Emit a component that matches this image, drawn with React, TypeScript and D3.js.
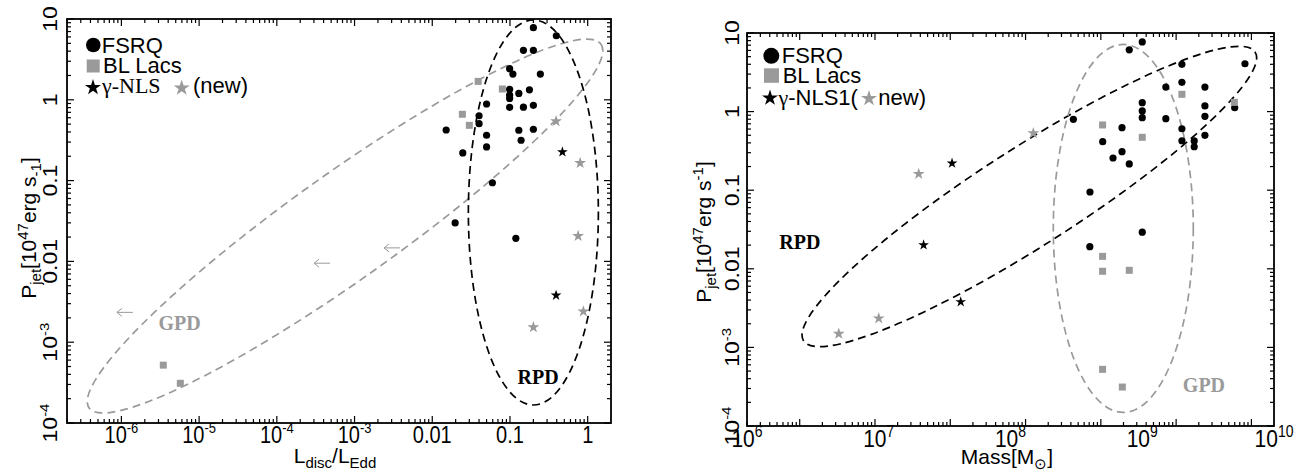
import React from "react";
import * as d3 from "d3";

// ---------- data (left panel: Pjet vs Ldisc/LEdd) ----------
const leftFsrqX = [0.2, 0.395, 0.149, 0.2, 0.099, 0.109, 0.246, 0.099, 0.13, 0.178, 0.099, 0.099, 0.05, 0.099, 0.149, 0.2, 0.04, 0.04, 0.0151, 0.13, 0.2, 0.139, 0.05, 0.05, 0.0247, 0.0594, 0.0197, 0.119];
const leftFsrqY = [7.8, 6.2, 4.1, 4.1, 2.43, 2.08, 2.08, 1.35, 1.2, 1.33, 1.14, 1.04, 0.887, 0.807, 0.81, 0.855, 0.635, 0.506, 0.423, 0.42, 0.432, 0.316, 0.364, 0.261, 0.22, 0.094, 0.0299, 0.0193];
const leftBlX = [0.039, 0.0798, 0.0244, 0.03, 3.46e-6, 5.73e-6];
const leftBlY = [1.69, 1.36, 0.662, 0.483, 5.2e-4, 3.1e-4];
const leftNlsX = [0.473, 0.392];
const leftNlsY = [0.226, 0.0038];
const leftNewX = [0.392, 0.8, 0.753, 0.88, 0.2];
const leftNewY = [0.542, 0.165, 0.0206, 0.0024, 0.00153];
const leftLimitX = [1.11e-6, 3.82e-4, 3.04e-3];
const leftLimitY = [2.34e-3, 9.5e-3, 0.0147];

// ---------- data (right panel: Pjet vs Mass) ----------
const rightFsrqM = [1.0e9, 7.97e8, 6.02e9, 2.0e9, 2.0e9, 1.51e9, 2.99e9, 1e9, 1e9, 1e9, 1.51e9, 3.0e8, 2.99e9, 2.99e9, 5.03e9, 7.02e8, 2e9, 2.99e9, 5.01e8, 2e9, 2.48e9, 2.48e9, 7.02e8, 6.0e8, 7.97e8, 4.01e8, 4.0e8, 1e9];
const rightFsrqY = [7.7, 6.1, 4.06, 4.0, 2.36, 2.05, 2.05, 1.3, 1.02, 0.836, 0.812, 0.798, 1.18, 0.871, 1.12, 0.624, 0.605, 0.499, 0.414, 0.426, 0.423, 0.357, 0.309, 0.257, 0.216, 0.0948, 0.0191, 0.0292];
const rightBlM = [2.0e9, 5.0e9, 5.0e8, 1e9, 5e8, 5e8, 7.97e8, 5e8, 7.06e8];
const rightBlY = [1.66, 1.31, 0.676, 0.471, 0.0144, 0.0093, 0.00957, 5.26e-4, 3.13e-4];
const rightNlsM = [3.6e7, 2.19e7, 4.19e7];
const rightNlsY = [0.22, 0.0201, 0.00379];
const rightNewM = [1.49e8, 2.01e7, 1.0e7, 4.97e6];
const rightNewY = [0.53, 0.161, 0.00234, 0.00149];

// ---------- tick labels ----------
const yTickVals = [10, 1, 0.1, 0.01, 1e-3, 1e-4];
const yTickBase = ["10", "1", "0.1", "0.01", "10", "10"];
const yTickExp = ["", "", "", "", "-3", "-4"];
const leftXTickVals = [1e-6, 1e-5, 1e-4, 1e-3, 0.01, 0.1, 1];
const leftXTickBase = ["10", "10", "10", "10", "0.01", "0.1", "1"];
const leftXTickExp = ["-6", "-5", "-4", "-3", "", "", ""];
const rightXTickVals = [1e6, 1e7, 1e8, 1e9, 1e10];
const rightXTickExp = ["6", "7", "8", "9", "10"];

const BLACK = "#000";
const GRAY = "#9a9a9a";
const SANS = "'Liberation Sans', Arial, Helvetica, sans-serif";
const SERIF = "'Liberation Serif', 'Times New Roman', serif";
const STRETCH = 1.15;

function logTicks(domain: number[]) {
  const lo = Math.log10(domain[0]);
  const hi = Math.log10(domain[1]);
  const out: { v: number; major: boolean }[] = [];
  for (let k = Math.floor(lo); k <= Math.ceil(hi); k++) {
    for (let m = 1; m <= 9; m++) {
      const v = m * Math.pow(10, k);
      const lv = Math.log10(v);
      if (lv >= lo - 1e-9 && lv <= hi + 1e-9) out.push({ v, major: m === 1 });
    }
  }
  return out;
}

function Frame({ x0, x1, y0, y1, xTickScale, yScale }: any) {
  const xt = logTicks(xTickScale.domain());
  const yt = logTicks(yScale.domain());
  const els: any[] = [];
  xt.forEach((t, i) => {
    const px = xTickScale(t.v);
    const L = t.major ? 7 : 4;
    els.push(<line key={"xb" + i} x1={px} x2={px} y1={y1} y2={y1 - L} stroke={BLACK} strokeWidth={1.2} />);
    els.push(<line key={"xt" + i} x1={px} x2={px} y1={y0} y2={y0 + L} stroke={BLACK} strokeWidth={1.2} />);
  });
  yt.forEach((t, i) => {
    const py = yScale(t.v);
    const L = t.major ? 7 : 4;
    els.push(<line key={"yl" + i} x1={x0} x2={x0 + L} y1={py} y2={py} stroke={BLACK} strokeWidth={1.2} />);
    els.push(<line key={"yr" + i} x1={x1} x2={x1 - L} y1={py} y2={py} stroke={BLACK} strokeWidth={1.2} />);
  });
  return (
    <g>
      {els}
      <rect x={x0} y={y0} width={x1 - x0} height={y1 - y0} fill="none" stroke={BLACK} strokeWidth={1.8} />
    </g>
  );
}

function Ellipse({ cx, cy, rx, ry, angle, color }: any) {
  return (
    <ellipse cx={cx} cy={cy} rx={rx} ry={ry} transform={`rotate(${angle} ${cx} ${cy})`}
      fill="none" stroke={color} strokeWidth={1.7} strokeDasharray="8 5" />
  );
}

const starSmall = d3.symbol(d3.symbolStar, 36)()!;
const starNew = d3.symbol(d3.symbolStar, 44)()!;
const starLegend = d3.symbol(d3.symbolStar, 80)()!;

function Points({ xs, ys, xScale, yScale, kind, color }: any) {
  return (
    <g>
      {xs.map((xv: number, i: number) => {
        const px = xScale(xv);
        const py = yScale(ys[i]);
        if (kind === "circle") return <circle key={i} cx={px} cy={py} r={3.6} fill={color} />;
        if (kind === "square") return <rect key={i} x={px - 3.5} y={py - 3.5} width={7} height={7} fill={color} />;
        const p = kind === "starNew" ? starNew : starSmall;
        return <path key={i} d={p} transform={`translate(${px},${py})`} fill={color} />;
      })}
    </g>
  );
}

function YTickLabels({ yScale, x }: any) {
  return (
    <g>
      {yTickVals.map((v, i) => (
        <text key={i} transform={`translate(${x},${yScale(v)}) scale(1,${STRETCH}) rotate(-90)`} textAnchor="middle"
          fontFamily={SANS} fontSize={20} fill={BLACK}>
          {yTickBase[i]}
          {yTickExp[i] && <tspan dy={-8} fontSize={13}>{yTickExp[i]}</tspan>}
        </text>
      ))}
    </g>
  );
}

export default function App() {
  // left panel
  const L = { x0: 67, x1: 611, y0: 19, y1: 423 };
  const xL = d3.scaleLog().domain([Math.pow(10, -6.7), Math.pow(10, 0.3)]).range([L.x0, L.x1]);
  const yL = d3.scaleLog().domain([1e-4, 10]).range([L.y1, L.y0]);
  // right panel
  const R = { x0: 747, x1: 1274, y0: 33, y1: 426 };
  const xR = d3.scaleLog().domain([1e6, 1e10]).range([R.x0, R.x1]);
  const xRTick = d3.scaleLog().domain([Math.pow(10, -6.7), Math.pow(10, 0.3)]).range([R.x0, R.x1]);
  const yR = d3.scaleLog().domain([1e-4, 10]).range([R.y1, R.y0]);

  return (
    <svg width={1310} height={472} style={{ position: "absolute", left: 0, top: 0, background: "#fff" }}>
      <rect x={0} y={0} width={1310} height={472} fill="#fff" />

      {/* ================= LEFT PANEL ================= */}
      <Ellipse cx={xL(7.55e-4)} cy={yL(0.0274)} rx={314} ry={53} angle={-35.4} color={GRAY} />
      <Ellipse cx={xL(0.2)} cy={yL(0.0403)} rx={65} ry={192.5} angle={0} color={BLACK} />
      <Points xs={leftFsrqX} ys={leftFsrqY} xScale={xL} yScale={yL} kind="circle" color={BLACK} />
      <Points xs={leftBlX} ys={leftBlY} xScale={xL} yScale={yL} kind="square" color={GRAY} />
      <Points xs={leftNewX} ys={leftNewY} xScale={xL} yScale={yL} kind="starNew" color={GRAY} />
      <Points xs={leftNlsX} ys={leftNlsY} xScale={xL} yScale={yL} kind="star" color={BLACK} />
      {leftLimitX.map((v, i) => {
        const px = xL(v), py = yL(leftLimitY[i]);
        return (
          <path key={i} d={`M${px + 8},${py}H${px - 8}M${px - 3},${py - 4}L${px - 8},${py}L${px - 3},${py + 4}`}
            fill="none" stroke={GRAY} strokeWidth={1} />
        );
      })}
      <text x={xL(5.6e-6)} y={yL(1.42e-3)} textAnchor="middle" fontFamily={SERIF} fontWeight="bold" fontSize={20} fill={GRAY}>GPD</text>
      <text x={xL(0.23)} y={yL(3.04e-4)} textAnchor="middle" fontFamily={SERIF} fontWeight="bold" fontSize={20} fill={BLACK}>RPD</text>

      <Frame x0={L.x0} x1={L.x1} y0={L.y0} y1={L.y1} xTickScale={xL} yScale={yL} />
      <YTickLabels yScale={yL} x={57} />
      {leftXTickVals.map((v, i) => (
        <text key={i} transform={`translate(${xL(v)},443) scale(1,${STRETCH})`} textAnchor="middle" fontFamily={SANS} fontSize={20} fill={BLACK}>
          {leftXTickBase[i]}
          {leftXTickExp[i] && <tspan dy={-9} fontSize={13}>{leftXTickExp[i]}</tspan>}
        </text>
      ))}
      <text x={335} y={463} textAnchor="middle" fontFamily={SANS} fontSize={21} fill={BLACK}>
        L<tspan dy={5} fontSize={15}>disc</tspan><tspan dy={-5}>/L</tspan><tspan dy={5} fontSize={15}>Edd</tspan>
      </text>
      <text transform={`translate(36,228) rotate(-90)`} textAnchor="middle" fontFamily={SANS} fontSize={21} fill={BLACK}>
        P<tspan dy={5} fontSize={15}>jet</tspan><tspan dy={-5}>[10</tspan><tspan dy={-8} fontSize={15}>47</tspan>
        <tspan dy={8}>erg s</tspan><tspan dy={5} fontSize={15}>-1</tspan><tspan dy={-5}>]</tspan>
      </text>

      {/* left legend */}
      <circle cx={93.3} cy={45} r={7.3} fill={BLACK} />
      <text x={101.7} y={52.7} fontFamily={SANS} fontSize={22} fill={BLACK}>FSRQ</text>
      <rect x={86.7} y={59.5} width={13} height={13} fill={GRAY} />
      <text x={103} y={73} fontFamily={SANS} fontSize={22} fill={BLACK}>BL Lacs</text>
      <path d={starLegend} transform="translate(93,87.5)" fill={BLACK} />
      <text x={102} y={93.3} fontFamily={SERIF} fontSize={22} fill={BLACK}>γ-NLS</text>
      <path d={starLegend} transform="translate(181.7,88)" fill={GRAY} />
      <text x={193} y={93.3} fontFamily={SANS} fontSize={22} fill={BLACK}>(new)</text>

      {/* ================= RIGHT PANEL ================= */}
      <Ellipse cx={xR(1.39e8)} cy={yR(0.0832)} rx={268} ry={49} angle={-32.6} color={BLACK} />
      <Ellipse cx={xR(7.18e8)} cy={yR(0.0326)} rx={70} ry={184} angle={0} color={GRAY} />
      <Points xs={rightFsrqM} ys={rightFsrqY} xScale={xR} yScale={yR} kind="circle" color={BLACK} />
      <Points xs={rightBlM} ys={rightBlY} xScale={xR} yScale={yR} kind="square" color={GRAY} />
      <Points xs={rightNewM} ys={rightNewY} xScale={xR} yScale={yR} kind="starNew" color={GRAY} />
      <Points xs={rightNlsM} ys={rightNlsY} xScale={xR} yScale={yR} kind="star" color={BLACK} />
      <text x={xR(2.52e6)} y={yR(0.01786)} textAnchor="middle" fontFamily={SERIF} fontWeight="bold" fontSize={20} fill={BLACK}>RPD</text>
      <text x={xR(2.94e9)} y={yR(2.71e-4)} textAnchor="middle" fontFamily={SERIF} fontWeight="bold" fontSize={20} fill={GRAY}>GPD</text>

      <Frame x0={R.x0} x1={R.x1} y0={R.y0} y1={R.y1} xTickScale={xRTick} yScale={yR} />
      <YTickLabels yScale={yR} x={739} />
      {rightXTickVals.map((v, i) => (
        <text key={i} transform={`translate(${xR(v)},447) scale(1,${STRETCH})`} textAnchor="middle" fontFamily={SANS} fontSize={21} fill={BLACK}>
          10<tspan dy={-9} fontSize={14}>{rightXTickExp[i]}</tspan>
        </text>
      ))}
      <text x={1007} y={464} textAnchor="middle" fontFamily={SANS} fontSize={21} fill={BLACK}>
        Mass[M<tspan dy={5} fontSize={15}>⊙</tspan><tspan dy={-5}>]</tspan>
      </text>
      <text transform={`translate(711,232) rotate(-90)`} textAnchor="middle" fontFamily={SANS} fontSize={21} fill={BLACK}>
        P<tspan dy={5} fontSize={15}>jet</tspan><tspan dy={-5}>[10</tspan><tspan dy={-8} fontSize={15}>47</tspan>
        <tspan dy={8}>erg s</tspan><tspan dy={-8} fontSize={15}>-1</tspan><tspan dy={8}>]</tspan>
      </text>

      {/* right legend */}
      <circle cx={771.3} cy={55.8} r={8} fill={BLACK} />
      <text x={781.7} y={63.3} fontFamily={SANS} fontSize={22} fill={BLACK}>FSRQ</text>
      <rect x={764} y={68.3} width={15} height={14.5} fill={GRAY} />
      <text x={782.7} y={82.7} fontFamily={SANS} fontSize={22} fill={BLACK}>BL Lacs</text>
      <path d={starLegend} transform="translate(770,98)" fill={BLACK} />
      <text x={778.5} y={105} fontFamily={SANS} fontSize={22} fill={BLACK}>
        <tspan fontFamily={SERIF}>γ</tspan>-NLS1(
      </text>
      <path d={starLegend} transform="translate(869,98.5)" fill={GRAY} />
      <text x={878.3} y={105} fontFamily={SANS} fontSize={22} fill={BLACK}>new)</text>
    </svg>
  );
}
